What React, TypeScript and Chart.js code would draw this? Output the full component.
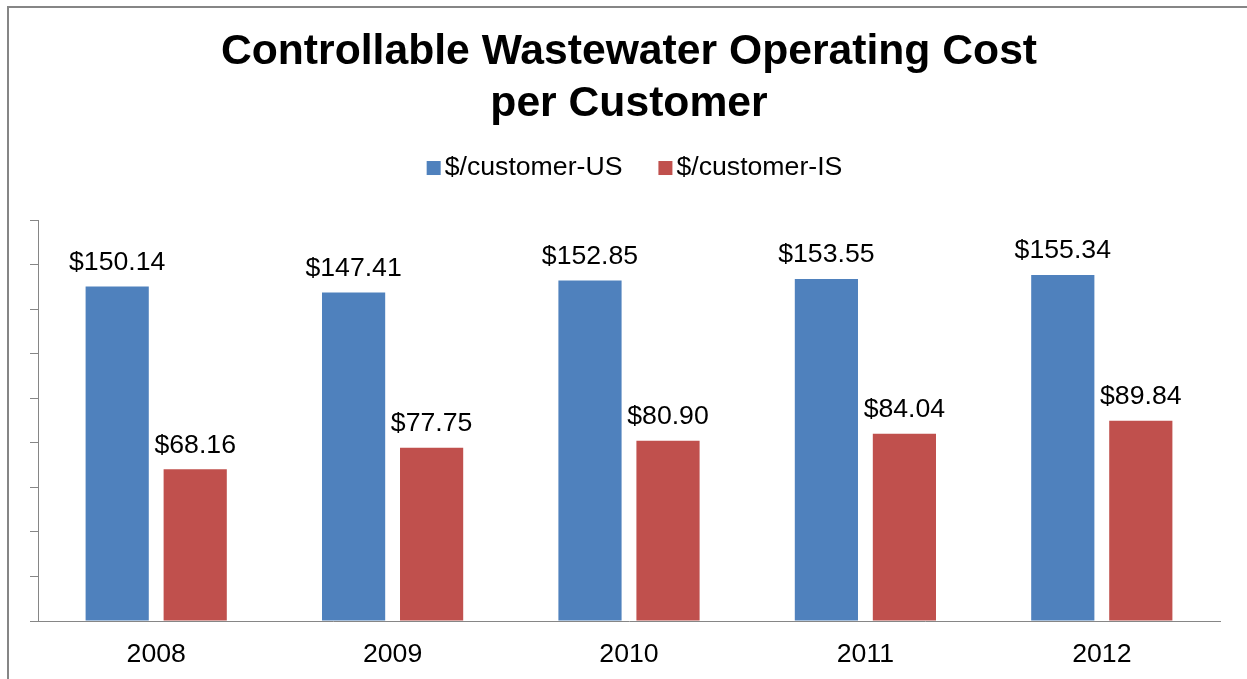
import { useEffect, useRef } from 'react';
import { Chart, registerables } from 'chart.js';

Chart.register(...registerables);

const categories = ['2008', '2009', '2010', '2011', '2012'];
const seriesUS = [150.14, 147.41, 152.85, 153.55, 155.34];
const seriesIS = [68.16, 77.75, 80.9, 84.04, 89.84];
const seriesNames = ['$/customer-US', '$/customer-IS'];
const seriesColors = ['#4F81BD', '#C0504D'];
const titleLines = ['Controllable Wastewater Operating Cost', 'per Customer'];
const yMin = 0;
const yMax = 180;
const yStep = 20;

const FONT = "'Liberation Sans', Arial, Helvetica, sans-serif";
const TEXT_SIZE = 26.67;
const AXIS_GRAY = '#868686';

const legendPlugin = {
  id: 'customLegend',
  afterDraw(chart: any) {
    const { ctx, chartArea } = chart;
    ctx.save();
    ctx.font = `${TEXT_SIZE}px ${FONT}`;
    const box = 14;
    const gapText = 4;
    const gapItem = 36;
    const ds = chart.data.datasets;
    const widths = ds.map((d: any) => ctx.measureText(d.label).width);
    const total =
      widths.reduce((s: number, w: number) => s + box + gapText + w, 0) + gapItem * (widths.length - 1);
    let x = (chartArea.left + chartArea.right) / 2 + 5.5 - total / 2;
    const y = chartArea.top - 52;
    ctx.textBaseline = 'middle';
    ctx.textAlign = 'left';
    ds.forEach((d: any, i: number) => {
      ctx.fillStyle = d.backgroundColor;
      ctx.fillRect(x, y - 7, box, box);
      ctx.fillStyle = '#000';
      ctx.fillText(d.label, x + box + gapText, y);
      x += box + gapText + widths[i] + gapItem;
    });
    ctx.restore();
  },
};

const valueLabelPlugin = {
  id: 'valueLabels',
  afterDatasetsDraw(chart: any) {
    const { ctx } = chart;
    ctx.save();
    ctx.font = `${TEXT_SIZE}px ${FONT}`;
    ctx.fillStyle = '#000';
    ctx.textAlign = 'center';
    ctx.textBaseline = 'alphabetic';
    chart.data.datasets.forEach((d: any, di: number) => {
      const meta = chart.getDatasetMeta(di);
      meta.data.forEach((el: any, i: number) => {
        const v = d.data[i] as number;
        ctx.fillText(`$${v.toFixed(2)}`, el.x, el.y - 16.5);
      });
    });
    ctx.restore();
  },
};

export default function App() {
  const ref = useRef<HTMLCanvasElement>(null);

  useEffect(() => {
    const chart = new Chart(ref.current as HTMLCanvasElement, {
      type: 'bar',
      data: {
        labels: categories,
        datasets: [
          {
            label: seriesNames[0],
            data: seriesUS,
            backgroundColor: seriesColors[0],
            borderWidth: 0,
            barPercentage: 0.81,
            categoryPercentage: 0.66,
          },
          {
            label: seriesNames[1],
            data: seriesIS,
            backgroundColor: seriesColors[1],
            borderWidth: 0,
            barPercentage: 0.81,
            categoryPercentage: 0.66,
          },
        ],
      },
      options: {
        animation: false,
        responsive: false,
        devicePixelRatio: 1,
        layout: { padding: { left: 30, right: 27, top: 0, bottom: 8 } },
        plugins: {
          legend: { display: false },
          tooltip: { enabled: false },
          title: {
            display: true,
            text: titleLines,
            fullSize: false,
            color: '#000',
            font: { family: FONT, size: 42.67, weight: 'bold', lineHeight: 1.22 },
            padding: { top: 26.5, bottom: 89.4 },
          },
        },
        scales: {
          x: {
            offset: true,
            grid: { display: false, drawTicks: false },
            border: { display: true, color: AXIS_GRAY, width: 1 },
            ticks: {
              color: '#000',
              font: { family: FONT, size: TEXT_SIZE, lineHeight: 1.2 },
              padding: 17.5,
              maxRotation: 0,
              autoSkip: false,
            },
            afterFit: (scale: any) => {
              scale.height = 50;
            },
          },
          y: {
            min: yMin,
            max: yMax,
            ticks: { stepSize: yStep, display: false },
            grid: {
              display: true,
              drawOnChartArea: false,
              drawTicks: true,
              tickLength: 8,
              color: AXIS_GRAY,
              lineWidth: 1,
            },
            border: { display: true, color: AXIS_GRAY, width: 1 },
          },
        },
      },
      plugins: [legendPlugin, valueLabelPlugin],
    });
    return () => chart.destroy();
  }, []);

  return (
    <>
      <div
        style={{
          position: 'fixed',
          left: 7,
          top: 6,
          width: 1240,
          height: 673,
          borderLeft: `2px solid ${AXIS_GRAY}`,
          borderTop: `2px solid ${AXIS_GRAY}`,
          boxSizing: 'border-box',
          background: '#fff',
        }}
      />
      <div style={{ position: 'fixed', left: 0, top: 0, width: 1247, height: 679 }}>
        <canvas ref={ref} width={1247} height={679} style={{ display: 'block' }} />
      </div>
    </>
  );
}
